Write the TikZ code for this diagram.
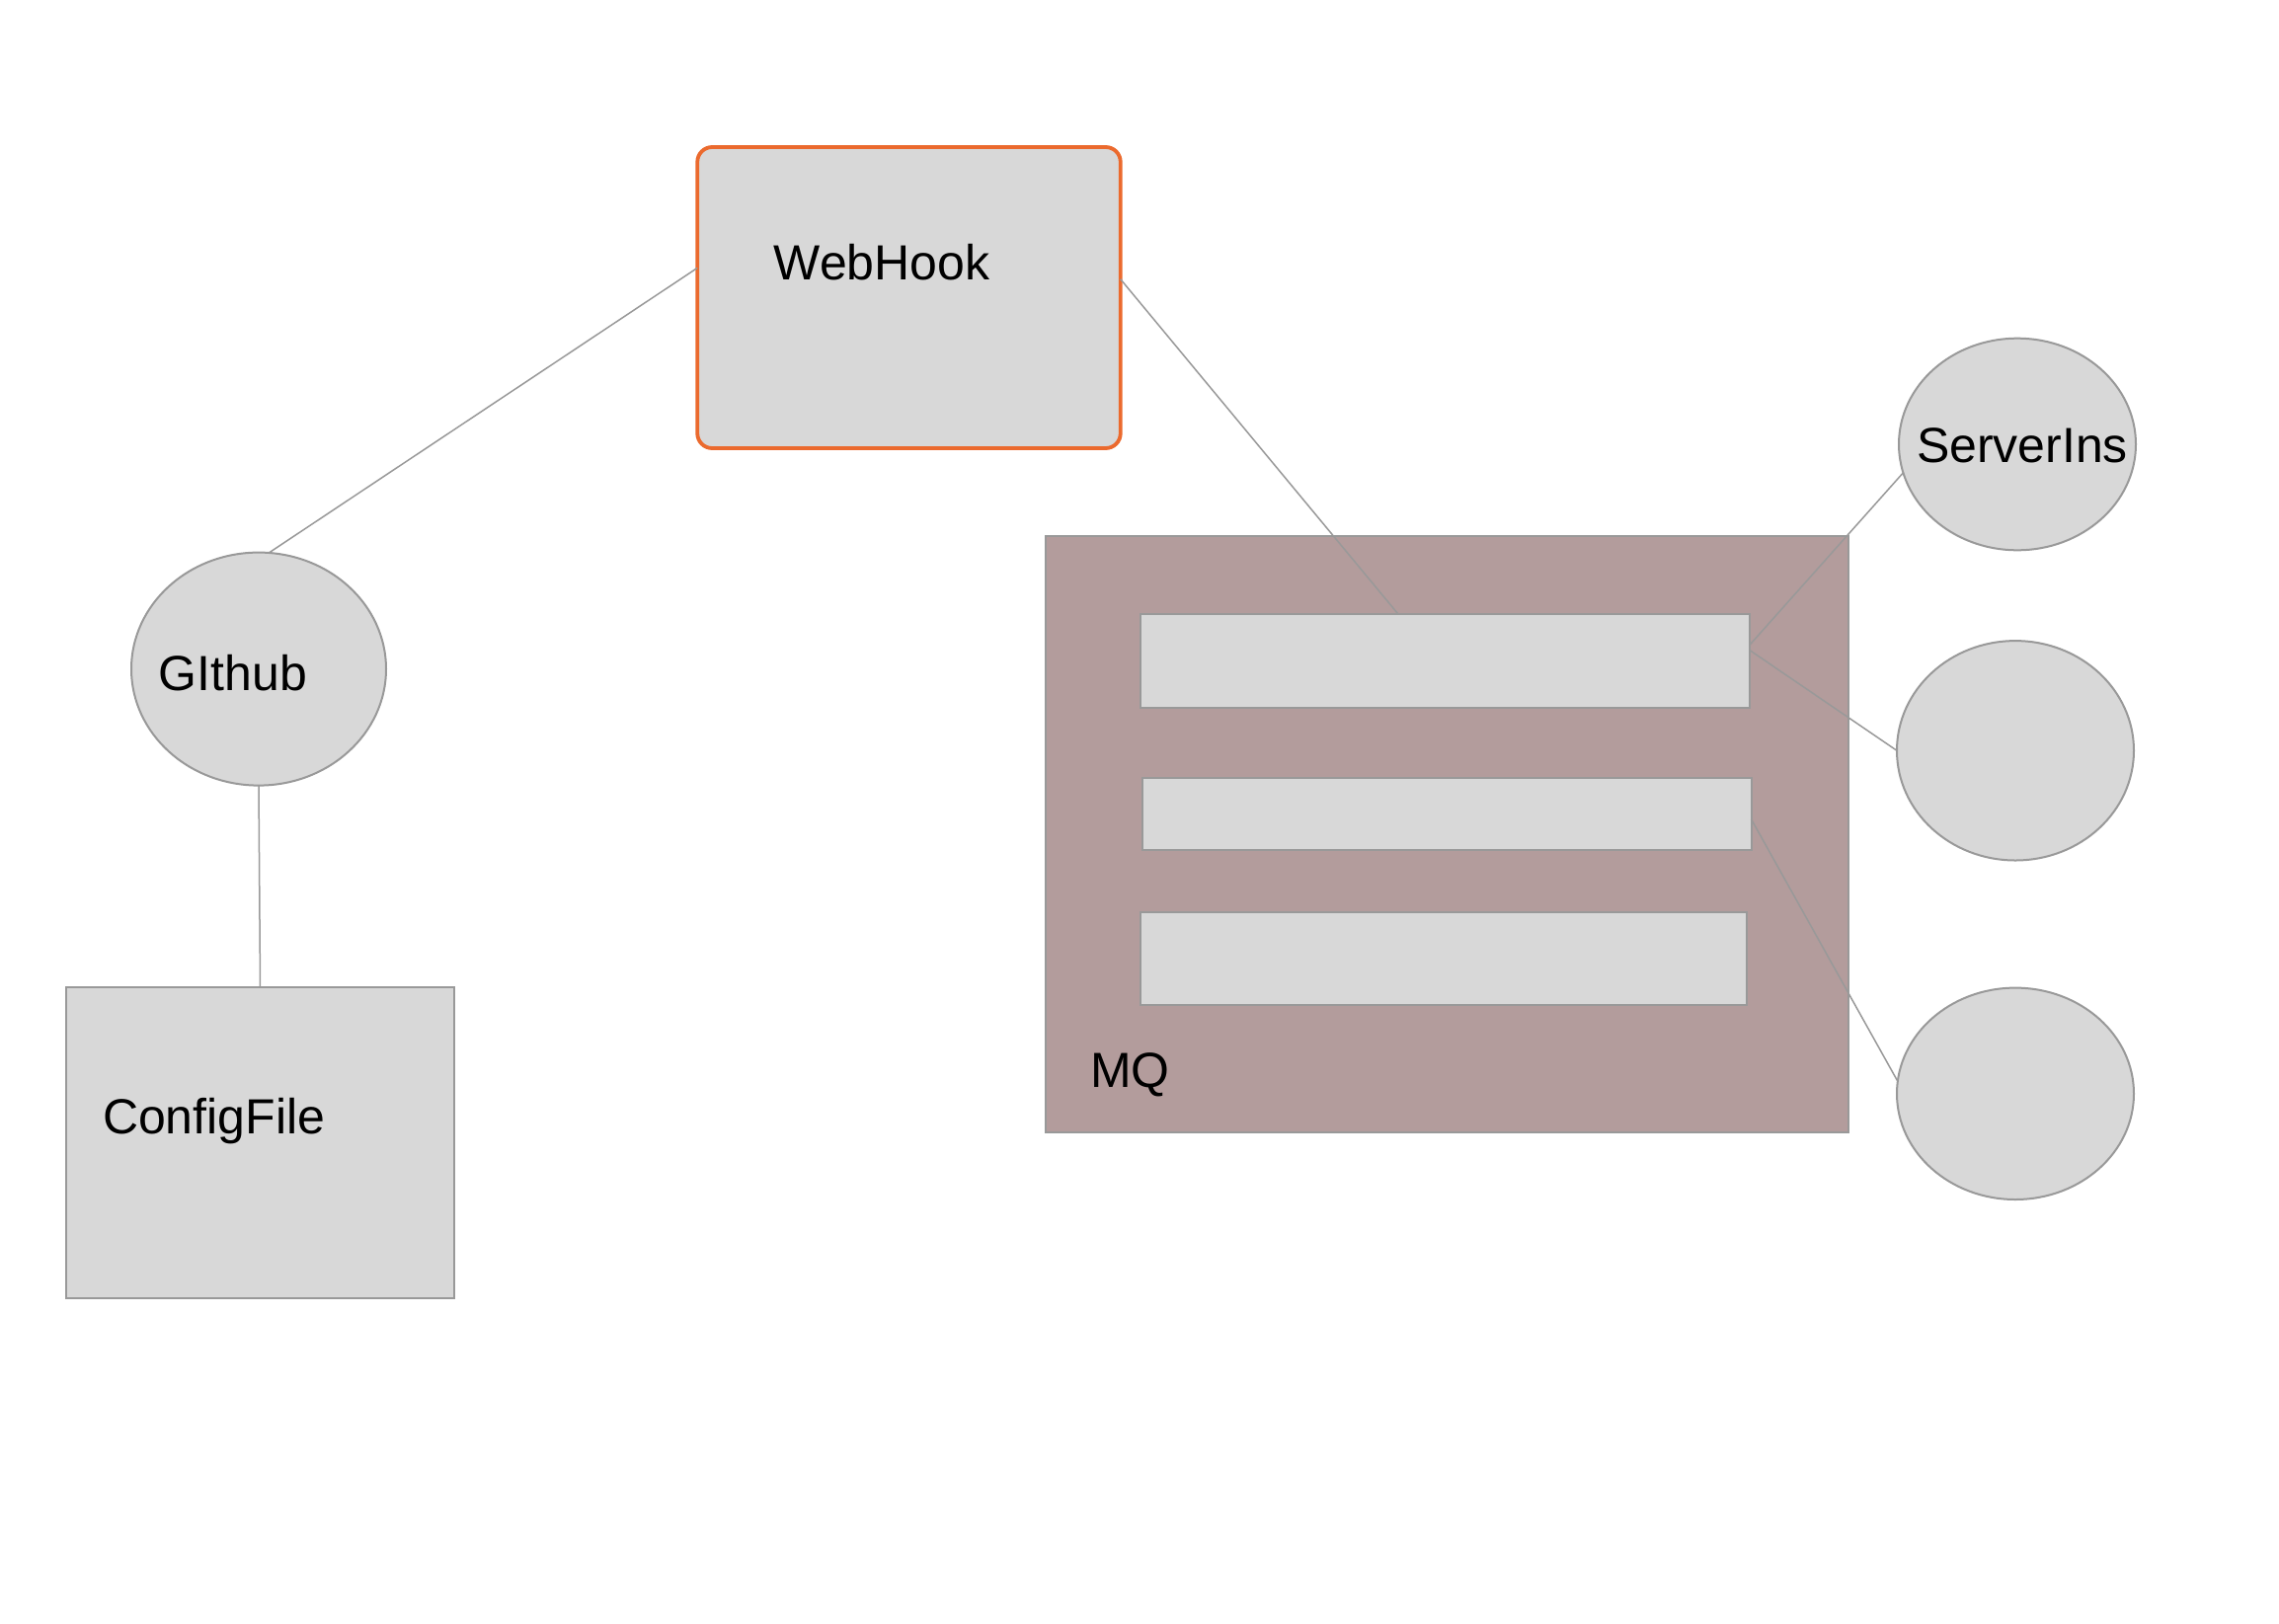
\documentclass[tikz,border=0pt]{standalone}
\usepackage{fontspec}
\setmainfont{Liberation Sans}
\usetikzlibrary{shapes.geometric}
\definecolor{boxfill}{HTML}{D8D8D8}
\definecolor{edgegray}{HTML}{999999}
\definecolor{mqfill}{HTML}{B39C9C}
\definecolor{hookorange}{HTML}{EB6A2E}
\tikzset{
  shapebox/.style={rectangle, draw=edgegray, fill=boxfill, line width=1pt, inner sep=0pt, outer sep=0pt},
  shapeell/.style={ellipse, draw=edgegray, fill=boxfill, line width=1pt, inner sep=0pt, outer sep=0pt},
  hookbox/.style={rectangle, rounded corners=7.5pt, draw=hookorange, fill=boxfill, line width=1.9pt, inner sep=0pt, outer sep=0pt},
  mqbox/.style={rectangle, draw=edgegray, fill=mqfill, line width=1pt, inner sep=0pt, outer sep=0pt},
  txt/.style={anchor=base west, inner sep=0pt, outer sep=0pt, font=\fontsize{25pt}{30pt}\selectfont, text=black},
  conn/.style={draw=edgegray, line width=0.75pt}
}
\begin{document}
\begin{tikzpicture}[x=0.5pt,y=-0.5pt]
\useasboundingbox[fill=white] (0,0) rectangle (2308,1644);
% shapes
\node[hookbox, minimum width=214.25pt, minimum height=152.5pt] (webhook) at (920.5,301.5) {};
\node[shapeell, minimum width=129pt, minimum height=118pt] (github) at (262,677.6) {};
\node[shapebox, minimum width=196.9pt, minimum height=157.5pt] (config) at (263.5,1157.5) {};
\node[mqbox, minimum width=406.5pt, minimum height=301.8pt] (mq) at (1465.2,845.1) {};
\node[shapebox, minimum width=308.7pt, minimum height=47.1pt] (bar1) at (1463.3,669.4) {};
\node[shapebox, minimum width=308.4pt, minimum height=36.5pt] (bar2) at (1465.2,824.5) {};
\node[shapebox, minimum width=307.3pt, minimum height=47.15pt] (bar3) at (1461.9,971.2) {};
\node[shapeell, minimum width=120pt, minimum height=107.3pt] (srv1) at (2043,450) {};
\node[shapeell, minimum width=120pt, minimum height=111.2pt] (srv2) at (2041,760.3) {};
\node[shapeell, minimum width=120pt, minimum height=107.2pt] (srv3) at (2041,1107.8) {};
% labels
\node[txt] (webhooklbl) at (783.7,283.7) {WebHook};
\node[txt] (githublbl) at (160.7,699.8) {GIthub};
\node[txt] (configlbl) at (104,1148.7) {ConfigFile};
\node[txt] (mqlbl) at (1104,1101) {MQ};
\node[txt] (srv1lbl) at (1941,468.5) {ServerIns};
% connectors
\draw[conn] (webhook.172.2) -- (github.85);
\draw[conn] (github.south) -- (config.north);
\draw[conn] (webhook.5.2) -- (bar1.135.5);
\draw[conn] (bar1.3.67) -- (srv1.194.7);
\draw[conn] (bar1.2.0) -- (srv2.west);
\draw[conn] (bar2.-1.76) -- (srv3.174.2);
\end{tikzpicture}
\end{document}
